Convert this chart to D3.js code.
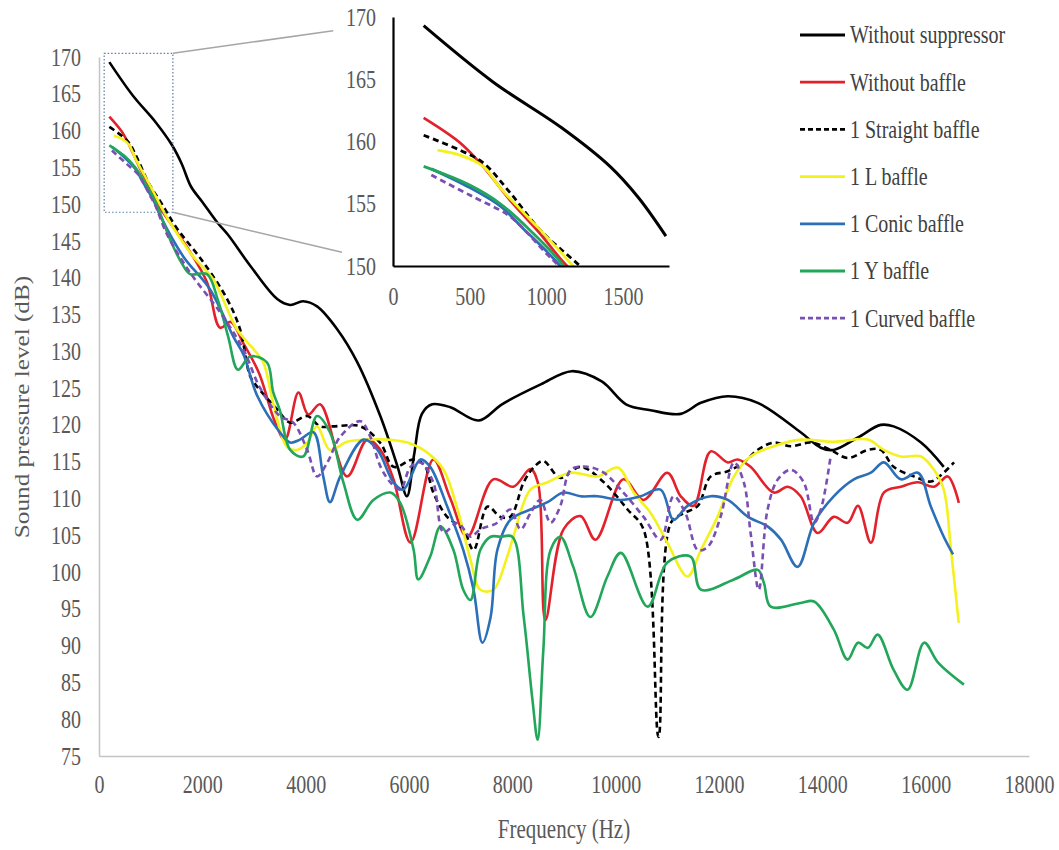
<!DOCTYPE html>
<html>
<head>
<meta charset="utf-8">
<script src="https://cdn.jsdelivr.net/npm/d3@7"></script>
<style>
  body { margin: 0; background: #fff; }
  text { font-family: "Liberation Serif", "Times New Roman", serif; }
</style>
</head>
<body>
<svg id="chart" width="1059" height="850"></svg>
<script>
// ---- data: [frequency Hz, SPL dB] ----
const withoutSuppressor = [[200,169.3],[650,164.8],[1100,161.1],[1415,158],[1600,155.5],[1780,152.4],[2000,150.3],[2290,147.5],[2500,145.8],[2930,141.6],[3450,137.1],[3700,136.3],[3950,136.8],[4220,136.1],[4610,133],[5000,128.5],[5450,121.1],[5780,114.3],[5960,110.3],[6100,116],[6250,121.5],[6450,122.8],[6800,122.4],[7350,120.6],[7800,122.8],[8550,125.5],[9150,127.3],[9730,125.9],[10200,122.8],[10675,122],[11260,121.5],[11650,123],[12170,123.9],[12750,123],[13580,119],[13970,116.9],[14220,116.6],[14690,118.3],[15130,120],[15380,119.8],[15910,117.6],[16350,114.3]];

const withoutBaffle = [[200,161.9],[437,159.9],[587,158],[763,155.3],[959,152.6],[1135,150],[1376,147.5],[1763,143.5],[2090,139.4],[2345,133.2],[2550,134],[2800,131],[3100,127],[3400,120.5],[3600,118],[3860,124.4],[4050,121.4],[4280,122.8],[4800,113],[5190,118],[5445,116.6],[5700,112.6],[6030,104],[6470,115.3],[6800,110],[7130,104.8],[7630,112.6],[8020,111.6],[8350,114],[8500,112],[8640,93.5],[8990,105.8],[9320,107.6],[9610,104.4],[10150,112.6],[10540,109.8],[11000,113.5],[11260,110.3],[11510,109],[11840,116.4],[12170,114.9],[12360,115.3],[12610,114.3],[13060,110.8],[13330,111.6],[13580,110.3],[13910,105.3],[14220,107.5],[14490,106.7],[14690,109],[14940,104],[15190,110.8],[15520,111.6],[15850,112.2],[16160,111.6],[16430,113],[16640,109.4]];

const straightBaffle = [[200,160.5],[437,159.3],[587,158.3],[763,155.9],[959,152.9],[1220,150],[1500,146.8],[2020,142.1],[2480,137.1],[2730,133],[2926,126.6],[3060,125.2],[3450,122.1],[3700,120.3],[4030,121.2],[4280,119.8],[4530,119.8],[5060,119.8],[5450,117.5],[5700,114.3],[6090,115.3],[6300,114.5],[6470,110.8],[6740,107.5],[7050,105.8],[7250,103],[7520,108.9],[7770,107.5],[7960,107.5],[8220,112.2],[8410,114.2],[8600,115.1],[8930,112.8],[9320,114.3],[9770,112.2],[10230,108.5],[10540,105.8],[10830,77.6],[11070,106.7],[11320,108],[11590,109],[11840,113],[12170,113.7],[12480,114.9],[12750,116.6],[13060,117.6],[13390,117.1],[13780,117.6],[14160,116.6],[14490,115.5],[14880,116.6],[15130,116.6],[15380,114.3],[15770,113],[16100,112.3],[16300,113.2],[16550,114.9]];

const lBaffle = [[290,159.3],[437,158.9],[587,158],[698,156.3],[874,154],[1044,151.8],[1175,150],[1376,147.5],[1820,142.9],[2210,139.8],[2670,133],[2990,130.3],[3180,128.5],[3370,123],[3640,117],[3830,116.6],[4030,117.6],[4220,119.8],[4470,116.6],[4800,117.7],[5190,118],[5580,118],[5970,117.6],[6360,116.2],[6670,113.9],[6940,108.5],[7190,101.7],[7380,97.6],[7630,97.6],[7900,102.1],[8020,104.8],[8350,111.2],[8680,112.2],[9130,113.5],[9650,113],[10040,114.2],[10350,110.8],[10680,108],[11000,104],[11390,99.4],[11650,103],[11970,107.5],[12290,113],[12610,115.7],[13060,117.1],[13580,118],[14220,117.7],[14880,118],[15190,116.6],[15520,115.7],[15910,115.7],[16160,113.9],[16350,111.2],[16490,103],[16640,93.1]];

const conicBaffle = [[250,157.8],[500,156.3],[700,154.8],[850,153],[1000,151.2],[1090,150],[1180,148.5],[1630,142.9],[2150,138.4],[2600,132],[2800,129.5],[3060,124],[3500,119],[3700,117.6],[3890,118],[4150,119],[4340,113],[4470,109.5],[4670,113],[5120,118],[5390,116.6],[5700,112.2],[5890,111.2],[6220,115.3],[6410,114.3],[6740,108.9],[7050,103],[7250,97.6],[7420,90.4],[7580,93.9],[7710,103],[7960,107.1],[8350,108.5],[8680,109.5],[8990,110.8],[9320,110.3],[9650,110.3],[10100,109.8],[10480,110.3],[10870,111.2],[11120,107.1],[11390,109],[11840,110.3],[12170,109.8],[12560,107.5],[12940,106.2],[13200,104.4],[13520,100.7],[13840,106.7],[14220,110.3],[14610,112.6],[14940,113.5],[15190,114.9],[15520,112.6],[15850,113.5],[16100,108.9],[16350,104.8],[16530,102.4]];

const yBaffle = [[200,158],[500,156.5],[700,155],[900,152.8],[1100,150.2],[1376,145.2],[1600,142],[1763,140.5],[2090,140.5],[2300,137],[2500,132],[2690,127.5],[2926,129.3],[3250,128.5],[3370,124.5],[3500,122],[3700,116.6],[3950,115.7],[4220,121.2],[4470,119],[4730,112.2],[5000,107.1],[5310,109.8],[5640,110.8],[5830,109.4],[6090,103],[6180,99],[6410,102.1],[6610,106.2],[6860,103],[7050,97.6],[7190,96.2],[7380,103],[7580,104.8],[7770,104.8],[8000,104.8],[8220,93.9],[8390,82.6],[8490,77.2],[8600,89.4],[8740,103],[8930,104.8],[9180,100.7],[9510,93.9],[9840,99.4],[10100,102.6],[10620,95.3],[11000,101.3],[11450,102.1],[11650,97.6],[12290,99],[12750,100.3],[12870,98.5],[13000,95.3],[13580,95.8],[13840,96],[14220,92.2],[14490,88.1],[14690,90.4],[14880,89.7],[15070,91.5],[15380,86.7],[15650,84],[15970,90.4],[16240,87.7],[16740,84.7]];

const curvedBaffle = [[250,157.3],[500,155.7],[750,154.1],[850,153],[1000,151],[1080,150],[1310,146],[1763,140.7],[2345,135.3],[2790,130.3],[3120,125],[3500,121.2],[3760,120.3],[4030,116.6],[4220,113],[4420,114.9],[4670,118.4],[5060,120.5],[5250,118.4],[5450,114.3],[5640,112.2],[5830,111.2],[6030,114.3],[6220,114.9],[6470,112.2],[6670,105.4],[6940,106.7],[7190,104.8],[7380,105.8],[7710,106.7],[7960,108.5],[8160,105.8],[8350,108],[8540,109.8],[8740,106.7],[8930,109],[9130,113.9],[9450,114.3],[9770,113.5],[10100,111.2],[10540,107.5],[10870,104.4],[11120,110.3],[11350,108],[11590,103],[11780,103.4],[12030,107.5],[12290,114.9],[12480,112.2],[12610,105.4],[12770,97.6],[12940,108.5],[13140,112.6],[13390,113.9],[13640,112.2],[13840,106.7],[13970,108.5],[14160,115.7]];

const seriesNames = ["Without suppressor","Without baffle","1 Straight baffle","1 L baffle","1 Conic baffle","1 Y baffle","1 Curved baffle"];
const seriesValues = [withoutSuppressor, withoutBaffle, straightBaffle, lBaffle, conicBaffle, yBaffle, curvedBaffle];
const seriesColors = ["#000000","#e3212b","#000000","#f4f21c","#2b6fb8","#22a65a","#7a4fb2"];
const seriesDashed = [false,false,true,false,false,false,true];

const xTicks = d3.range(0, 18001, 2000);
const yTicks = d3.range(75, 171, 5);
const insetXTicks = [0, 500, 1000, 1500];
const insetYTicks = [150, 155, 160, 165, 170];
const zoomFreq = [100, 1430];
const zoomSpl = [148.9, 170.5];

// ---- layout ----
const svg = d3.select("#chart");
const STRETCH = "scale(1,1.26)";   // the source image is stretched vertically
const textGrey = "#595959";

const x = d3.scaleLinear().domain([0, 18000]).range([99, 1029]);
const y = d3.scaleLinear().domain([75, 170]).range([756, 57]);

const xi = d3.scaleLinear().domain([0, 1800]).range([393, 669]);
const yi = d3.scaleLinear().domain([150, 170]).range([266, 17]);

function styleAxis(g, lineColor, lineWidth) {
  g.attr("font-family", null).attr("font-size", null);
  g.select(".domain").attr("stroke", lineColor).attr("stroke-width", lineWidth);
  g.selectAll("text")
    .attr("fill", textGrey)
    .style("font-size", "20px")
    .attr("transform", STRETCH);
}

// main axes
svg.append("g")
  .attr("transform", "translate(0,756)")
  .call(d3.axisBottom(x).tickValues(xTicks).tickSize(0).tickPadding(15).tickFormat(d3.format("d")))
  .call(g => styleAxis(g, "#c4c4c4", 1.5));

svg.append("g")
  .attr("transform", "translate(99,0)")
  .call(d3.axisLeft(y).tickValues(yTicks).tickSize(0).tickPadding(18))
  .call(g => styleAxis(g, "#c4c4c4", 1.5));

svg.append("text")
  .attr("transform", "translate(564,838) " + STRETCH)
  .attr("text-anchor", "middle")
  .attr("fill", textGrey)
  .style("font-size", "21px")
  .text("Frequency (Hz)");

svg.append("text")
  .attr("transform", "translate(29,407) rotate(-90) scale(1.26,1)")
  .attr("text-anchor", "middle")
  .attr("fill", textGrey)
  .style("font-size", "20px")
  .text("Sound pressure level (dB)");

// series
const line = d3.line()
  .x(d => x(d[0]))
  .y(d => y(d[1]))
  .curve(d3.curveCatmullRom.alpha(0.5));

svg.append("g")
  .attr("fill", "none")
  .selectAll("path")
  .data(seriesValues)
  .join("path")
  .attr("d", line)
  .attr("stroke", (d, i) => seriesColors[i])
  .attr("stroke-width", 2.6)
  .attr("stroke-dasharray", (d, i) => seriesDashed[i] ? "6,4" : null);

// zoom box + connectors
svg.append("rect")
  .attr("x", x(zoomFreq[0]))
  .attr("y", y(zoomSpl[1]))
  .attr("width", x(zoomFreq[1]) - x(zoomFreq[0]))
  .attr("height", y(zoomSpl[0]) - y(zoomSpl[1]))
  .attr("fill", "none")
  .attr("stroke", "#5b7ea6")
  .attr("stroke-width", 1.2)
  .attr("stroke-dasharray", "1.5,2");

const connectors = [
  [[x(zoomFreq[1]), y(zoomSpl[1])], [xi(-390), yi(168.9)]],
  [[x(zoomFreq[1]), y(zoomSpl[0])], [xi(-333), yi(151.1)]]
];
svg.append("g").selectAll("line")
  .data(connectors)
  .join("line")
  .attr("x1", d => d[0][0]).attr("y1", d => d[0][1])
  .attr("x2", d => d[1][0]).attr("y2", d => d[1][1])
  .attr("stroke", "#a6a6a6")
  .attr("stroke-width", 1.5);

// inset
svg.append("clipPath").attr("id", "insetClip")
  .append("rect")
  .attr("x", xi(0)).attr("y", 0)
  .attr("width", xi(1800) - xi(0) + 4)
  .attr("height", yi(150));

const lineInset = d3.line()
  .x(d => xi(d[0]))
  .y(d => yi(d[1]))
  .curve(d3.curveCatmullRom.alpha(0.5));

svg.append("g")
  .attr("fill", "none")
  .attr("clip-path", "url(#insetClip)")
  .selectAll("path")
  .data(seriesValues.map(s => s.filter(d => d[0] <= 1800)))
  .join("path")
  .attr("d", lineInset)
  .attr("stroke", (d, i) => seriesColors[i])
  .attr("stroke-width", (d, i) => i === 0 ? 3 : 2.8)
  .attr("stroke-dasharray", (d, i) => seriesDashed[i] ? "6,4" : null);

svg.append("g")
  .attr("transform", "translate(0,266)")
  .call(d3.axisBottom(xi).tickValues(insetXTicks).tickSize(0).tickPadding(17).tickFormat(d3.format("d")))
  .call(g => styleAxis(g, "#000", 2.2));

svg.append("g")
  .attr("transform", "translate(393,0)")
  .call(d3.axisLeft(yi).tickValues(insetYTicks).tickSize(0).tickPadding(17))
  .call(g => styleAxis(g, "#000", 2.2));

// legend
const legend = svg.append("g")
  .selectAll("g")
  .data(seriesNames)
  .join("g")
  .attr("transform", (d, i) => `translate(800,${35 + i * 47.2})`);

legend.append("line")
  .attr("x1", 0).attr("x2", 45)
  .attr("stroke", (d, i) => seriesColors[i])
  .attr("stroke-width", 2.8)
  .attr("stroke-dasharray", (d, i) => seriesDashed[i] ? "5,3" : null);

legend.append("text")
  .attr("x", 50)
  .attr("dy", "0.33em")
  .attr("transform", STRETCH)
  .attr("fill", "#404040")
  .style("font-size", "20px")
  .text(d => d);
</script>
</body>
</html>
